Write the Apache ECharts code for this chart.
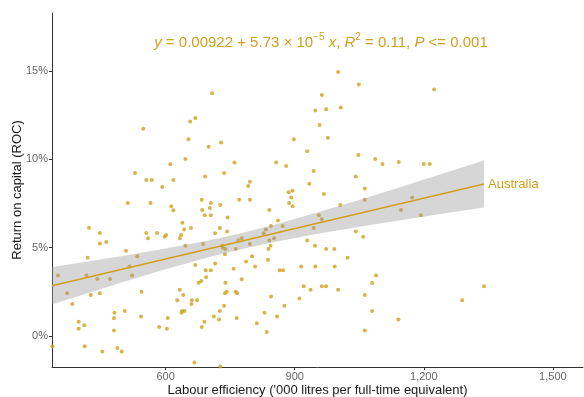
<!DOCTYPE html>
<html>
<head>
<meta charset="utf-8">
<script src="https://cdn.jsdelivr.net/npm/echarts@6/dist/echarts.min.js"></script>
<style>
  html, body { margin: 0; padding: 0; background: #ffffff; }
  #chart { width: 584px; height: 397px; }
</style>
</head>
<body>
<div id="chart"></div>
<script>
// Labour efficiency ('000 litres per FTE) for each farm
const efficiency = [
  548, 529, 555, 568, 592, 512, 565, 708, 669, 657, 653, 729, 700, 646, 611, 760, 736, 692, 618, 796,
  792, 684, 705, 727, 771, 796, 613, 618, 685, 703, 841, 1001, 1049, 963, 948, 973, 1007, 958, 898, 977,
  929, 857, 880, 1048, 1087, 1104, 944, 1042, 934, 1063, 895, 886, 892, 968, 887, 895, 1063, 1006, 956, 1224,
  1142, 1200, 1214, 1173, 1147, 1193, 1340, 1289, 1141, 422, 447, 447, 462, 555, 559, 580, 508, 419, 534, 350,
  416, 522, 441, 471, 516, 371, 383, 426, 447, 544, 481, 505, 480, 543, 398, 398, 411, 480, 585, 337,
  412, 453, 488, 498, 691, 705, 744, 639, 643, 659, 726, 743, 715, 601, 598, 636, 633, 646, 687, 732,
  733, 739, 738, 763, 769, 777, 796, 828, 833, 845, 841, 844, 839, 801, 787, 808, 838, 669, 715, 693,
  705, 758, 694, 677, 683, 739, 777, 633, 641, 627, 661, 673, 660, 738, 742, 763, 766, 736, 845, 638,
  644, 637, 726, 830, 712, 605, 765, 690, 724, 812, 603, 684, 835, 667, 727, 963, 861, 872, 944, 852,
  929, 947, 973, 992, 1042, 1059, 1023, 915, 948, 993, 865, 873, 1089, 1080, 921, 937, 963, 973, 1001, 1063,
  911, 876, 1080, 859, 1063
];
// Return on capital (%) for the same farms
const roc = [
  11.73, 9.22, 8.82, 8.82, 8.43, 7.52, 7.52, 13.73, 12.33, 12.13, 11.13, 10.94, 10.71, 10.01, 9.71, 9.82, 9.22, 9.03, 8.82, 8.73,
  8.48, 7.71, 7.52, 7.41, 7.71, 7.71, 7.34, 7.11, 7.13, 7.24, 7.13, 14.93, 14.22, 13.63, 12.75, 12.82, 12.92, 11.93, 11.13, 11.22,
  10.45, 9.82, 9.62, 10.24, 10.01, 9.73, 9.33, 9.03, 8.62, 8.34, 8.22, 8.13, 7.83, 8.03, 7.52, 7.34, 7.71, 7.41, 6.83, 13.94,
  9.84, 9.73, 9.73, 7.83, 7.13, 6.83, 2.81, 2.02, 0.93, 6.13, 5.83, 5.23, 5.32, 5.83, 5.53, 5.83, 4.83, 4.43, 4.52, 3.43,
  3.43, 3.43, 3.22, 3.22, 3.93, 2.42, 1.81, 2.32, 2.42, 2.51, 1.32, 1.41, 1.00, 1.11, 0.81, 0.42, 0.61, 0.31, 0.51, -0.58,
  -0.58, -0.88, -0.68, -0.88, 6.83, 6.83, 6.71, 6.41, 6.02, 6.11, 6.11, 5.92, 5.81, 5.71, 5.62, 5.71, 5.53, 5.11, 5.20, 5.11,
  5.00, 4.92, 4.62, 4.92, 5.41, 5.53, 5.20, 5.81, 6.02, 6.22, 5.41, 5.11, 4.92, 4.52, 4.21, 3.93, 4.32, 4.02, 4.11, 3.72,
  3.72, 3.81, 3.32, 3.02, 3.11, 3.02, 3.21, 2.62, 2.32, 2.02, 2.02, 2.02, 1.81, 2.42, 2.51, 2.51, 2.42, 1.72, 2.23, 1.41,
  1.41, 1.32, 1.41, 1.32, 1.11, 1.02, 1.02, 0.81, 0.93, 0.72, 0.42, 0.51, 0.23, -1.49, -1.72, 6.60, 6.53, 6.22, 6.11, 5.53,
  5.41, 5.11, 4.92, 4.92, 5.92, 5.62, 4.43, 3.93, 3.93, 3.93, 3.72, 3.72, 3.42, 3.00, 2.81, 2.62, 2.81, 2.81, 2.62, 2.32,
  2.12, 1.72, 1.41, 1.11, 0.31
];

// Linear fit, as printed in the equation
const fitIntercept = 0.00922;
const fitSlope = 5.73e-5;
const fitRange = [336, 1340];

// 95% confidence band around the fit (ROC %)
const bandX = [336, 400, 500, 600, 700, 770, 850, 950, 1050, 1150, 1250, 1340];
const bandLow = [1.79, 2.28, 3.04, 3.78, 4.46, 4.88, 5.31, 5.77, 6.18, 6.56, 6.94, 7.27];
const bandHigh = [3.90, 4.14, 4.53, 4.95, 5.41, 5.78, 6.28, 6.97, 7.70, 8.46, 9.23, 9.93];

// Axis ticks
const xTicks = [600, 900, 1200, 1500];
const yTicks = [0, 5, 10, 15];

const seriesName = 'Australia';
const gold = '#D0A01E';
const font = '"Liberation Sans", Arial, sans-serif';

const points = efficiency.map((x, i) => [x, roc[i]]);
const fitLine = fitRange.map(x => [x, (fitIntercept + fitSlope * x) * 100]);
const band = bandX.map((x, i) => [x, bandLow[i], bandHigh[i]]);

const chart = echarts.init(document.getElementById('chart'), null, { renderer: 'canvas' });

chart.setOption({
  animation: false,
  backgroundColor: '#ffffff',
  textStyle: { fontFamily: font },
  grid: { left: 52, top: 13, width: 531, height: 354, containLabel: false, outerBoundsMode: 'none' },
  xAxis: {
    type: 'value',
    min: 336,
    max: 1570,
    name: "Labour efficiency ('000 litres per full-time equivalent)",
    nameLocation: 'middle',
    nameGap: 17,
    nameMoveOverlap: false,
    nameTextStyle: { color: '#1a1a1a', fontSize: 13, fontFamily: font },
    axisLine: { show: true, onZero: false, lineStyle: { color: '#333333', width: 1 } },
    axisTick: { show: true, customValues: xTicks, length: 3, lineStyle: { color: '#333333' } },
    axisLabel: {
      customValues: xTicks,
      color: '#666666',
      fontSize: 11,
      margin: 4,
      fontFamily: font,
      formatter: v => v.toLocaleString('en-US')
    },
    splitLine: { show: false }
  },
  yAxis: {
    type: 'value',
    min: -1.75,
    max: 18.27,
    name: 'Return on capital (ROC)',
    nameLocation: 'middle',
    nameGap: 28,
    nameMoveOverlap: false,
    nameTextStyle: { color: '#1a1a1a', fontSize: 13, fontFamily: font },
    axisLine: { show: true, onZero: false, lineStyle: { color: '#333333', width: 1 } },
    axisTick: { show: true, customValues: yTicks, length: 3, lineStyle: { color: '#333333' } },
    axisLabel: {
      customValues: yTicks,
      color: '#666666',
      fontSize: 11,
      margin: 4,
      fontFamily: font,
      formatter: v => v + '%'
    },
    splitLine: { show: false }
  },
  graphic: [{
    type: 'text',
    x: 321,
    y: 43,
    style: {
      text: '{i|y} = 0.00922 + 5.73 × 10{s|−5} {i|x}, {i|R}{s|2} = 0.11, {i|P} <= 0.001',
      fill: gold,
      font: '15px ' + font,
      align: 'center',
      verticalAlign: 'middle',
      rich: {
        i: { fontStyle: 'italic', fontSize: 15, fill: gold, fontFamily: font },
        s: { fontSize: 10, fill: gold, fontFamily: font, verticalAlign: 'top', lineHeight: 22 }
      }
    }
  }],
  series: [
    {
      type: 'scatter',
      data: points,
      symbol: 'circle',
      symbolSize: 4,
      itemStyle: { color: gold },
      z: 2
    },
    {
      type: 'custom',
      data: band,
      z: 3,
      silent: true,
      renderItem: function (params, api) {
        if (params.dataIndex !== 0) return null;
        const upper = band.map(d => api.coord([d[0], d[2]]));
        const lower = band.slice().reverse().map(d => api.coord([d[0], d[1]]));
        return {
          type: 'polygon',
          shape: { points: upper.concat(lower) },
          style: { fill: 'rgba(153,153,153,0.4)', stroke: null }
        };
      }
    },
    {
      type: 'line',
      name: seriesName,
      data: fitLine,
      showSymbol: false,
      z: 4,
      lineStyle: { color: gold, width: 1.6 },
      endLabel: {
        show: true,
        formatter: seriesName,
        color: gold,
        fontSize: 13,
        fontFamily: font,
        distance: 4
      }
    }
  ]
});
</script>
</body>
</html>
